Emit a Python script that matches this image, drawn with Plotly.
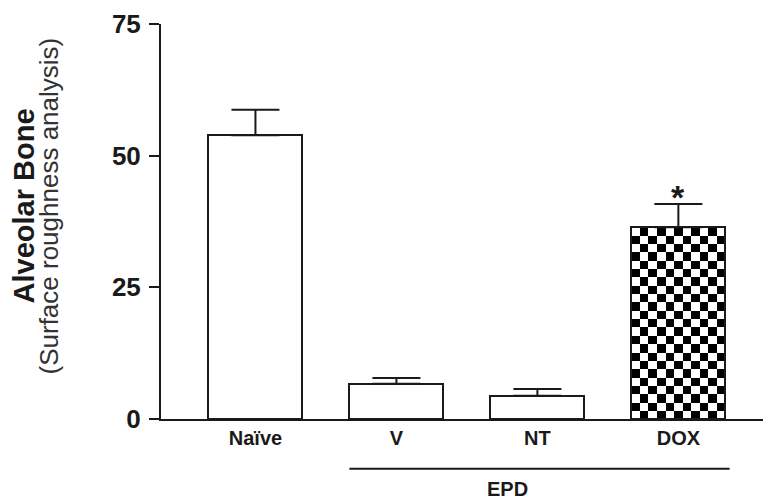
import plotly.graph_objects as go

# values
groups = ['Naïve', 'V', 'NT', 'DOX']
means = [53.9, 6.7, 4.4, 36.4]
sem = [4.8, 1.1, 1.3, 4.4]
y_ticks = [0, 25, 50, 75]
epd_groups = ['V', 'NT', 'DOX']
starred = ['DOX']

bar_w = 0.667
pos = list(range(len(groups)))
font = 'Liberation Sans, Arial, sans-serif'
ink = '#1a1a1a'

fig = go.Figure()

# checkerboard fill for DOX, drawn as a heatmap under the bar outline
i_dox = groups.index('DOX')
n_cols, n_rows = 11, 23
checker = [[(r + c) % 2 for c in range(n_cols)] for r in range(n_rows)]
dx = bar_w / n_cols
dy = means[i_dox] / n_rows
fig.add_trace(go.Heatmap(z=checker,
                         x0=pos[i_dox] - bar_w / 2 + dx / 2, dx=dx,
                         y0=dy / 2, dy=dy,
                         colorscale=[[0, 'white'], [1, 'black']],
                         showscale=False, zsmooth=False, hoverinfo='skip'))

fills = ['rgba(0,0,0,0)' if g == 'DOX' else 'white' for g in groups]
fig.add_trace(go.Bar(x=pos, y=means, width=bar_w,
                     marker=dict(color=fills, line=dict(color=ink, width=2)),
                     error_y=dict(type='data', array=sem, arrayminus=[0] * len(sem),
                                  symmetric=False, color=ink, thickness=2, width=24),
                     showlegend=False))

for g in starred:
    i = groups.index(g)
    fig.add_annotation(x=pos[i], y=means[i] + sem[i], text='<b>*</b>', showarrow=False,
                       yanchor='bottom', yshift=-14, font=dict(family=font, size=34, color=ink))

# EPD bracket under the three treated groups
x0 = pos[groups.index(epd_groups[0])] - bar_w / 2
x1 = pos[groups.index(epd_groups[-1])] + bar_w / 2
fig.add_shape(type='line', xref='x', yref='paper', x0=x0, x1=x1 + 0.03, y0=-0.126, y1=-0.126,
              line=dict(color=ink, width=2))
fig.add_annotation(x=1.79, xref='x', y=-0.178, yref='paper', text='<b>EPD</b>', showarrow=False,
                   xanchor='center', yanchor='middle', font=dict(family=font, size=20, color=ink))

# y title, two lines of different size
fig.add_annotation(x=0, xref='paper', y=0.538, yref='paper', xshift=-137, text='<b>Alveolar Bone</b>',
                   xanchor='center', yanchor='middle', textangle=-90, showarrow=False,
                   font=dict(family=font, size=29, color=ink))
fig.add_annotation(x=0, xref='paper', y=0.538, yref='paper', xshift=-112,
                   text='(Surface roughness analysis)', xanchor='center', yanchor='middle',
                   textangle=-90, showarrow=False, font=dict(family=font, size=26, color='#333333'))

fig.update_xaxes(range=[-0.67, 3.65], tickvals=pos, ticktext=['<b>%s</b>' % g for g in groups],
                 showline=True, linecolor=ink, linewidth=2, ticks='', showgrid=False,
                 zeroline=False, tickfont=dict(family=font, size=20, color=ink))
fig.update_yaxes(range=[0, 75], tickvals=y_ticks, ticktext=['<b>%d</b>' % t for t in y_ticks],
                 showline=True, linecolor=ink, linewidth=2, ticks='outside', ticklen=10,
                 tickwidth=2, tickcolor=ink, showgrid=False, zeroline=False,
                 ticklabelstandoff=3, ticklabeloverflow='allow',
                 tickfont=dict(family=font, size=26, color=ink))

# page body adds an 8px margin, so the figure is 8px smaller than the window
fig.update_layout(width=763, height=492, margin=dict(l=153, r=1, t=6, b=81),
                  plot_bgcolor='white', paper_bgcolor='white', bargap=0)

fig.write_html('out.html')
